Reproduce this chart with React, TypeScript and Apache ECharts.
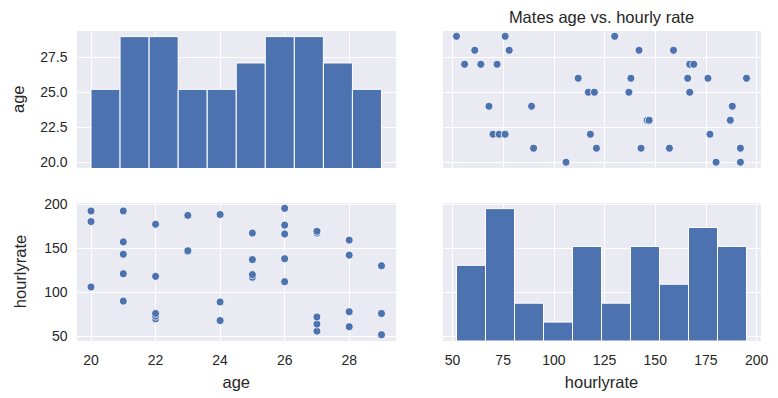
import React, { useEffect, useRef } from "react";
import * as echarts from "echarts";

// Paired observations (age, hourly rate)
const ageValues = [
  20, 20, 20, 21, 21, 21, 21, 21, 22, 22, 22, 22, 22, 23, 23, 23, 24, 24, 24, 25,
  25, 25, 25, 26, 26, 26, 26, 26, 27, 27, 27, 27, 27, 28, 28, 28, 28, 29, 29, 29,
];
const rateValues = [
  106, 180, 192, 90, 121, 143, 157, 192, 70, 73, 76, 118, 177, 146, 147, 187, 68, 89, 188, 117,
  120, 137, 167, 112, 138, 166, 176, 195, 56, 64, 72, 167, 169, 61, 78, 142, 159, 52, 76, 130,
];

// Histogram bins
const ageBinEdges = [20, 20.9, 21.8, 22.7, 23.6, 24.5, 25.4, 26.3, 27.2, 28.1, 29];
const ageBinCounts = [3, 5, 5, 3, 3, 4, 5, 5, 4, 3];
const rateBinEdges = [52, 66.3, 80.6, 94.9, 109.2, 123.5, 137.8, 152.1, 166.4, 180.7, 195];
const rateBinCounts = [4, 7, 2, 1, 5, 2, 5, 3, 6, 5];

const titleText = "Mates age vs. hourly rate";
const ageLabel = "age";
const rateLabel = "hourlyrate";

const AGE_MIN = 19.55;
const AGE_MAX = 29.45;
const RATE_MIN = 44.85;
const RATE_MAX = 202.15;

const BLUE = "#4C72B0";
const TEXT = "#262626";
const FONT = "Liberation Sans, Arial, sans-serif";

function isMultiple(v: number, step: number) {
  const r = v / step;
  return Math.abs(r - Math.round(r)) < 1e-6;
}

function makeAxis(opts: any) {
  const { gridIndex, min, max, step, showLabels, decimals, name, nameGap, margin } = opts;
  return {
    type: "value",
    gridIndex,
    min,
    max,
    minInterval: step,
    maxInterval: step,
    name: name || "",
    nameLocation: "middle",
    nameGap: nameGap || 30,
    nameTextStyle: { color: TEXT, fontSize: 16.5, fontFamily: FONT },
    axisLine: { show: false },
    axisTick: { show: false },
    splitLine: { show: true, lineStyle: { color: "#ffffff", width: 1 } },
    axisLabel: {
      show: !!showLabels,
      color: TEXT,
      fontSize: 14,
      fontFamily: FONT,
      margin: margin || 9,
      formatter: (v: number) => (isMultiple(v, step) ? v.toFixed(decimals || 0) : ""),
    },
  };
}

function histRender(params: any, api: any) {
  const p0 = api.coord([api.value(0), api.value(2)]);
  const p1 = api.coord([api.value(1), 0]);
  return {
    type: "rect",
    shape: { x: p0[0], y: p0[1], width: p1[0] - p0[0], height: p1[1] - p0[1] },
    style: { fill: BLUE, stroke: "#ffffff", lineWidth: 1 },
  };
}

export default function App() {
  const ref = useRef<HTMLDivElement>(null);

  useEffect(() => {
    if (!ref.current) return;
    const chart = echarts.init(ref.current, null, { renderer: "svg" });

    const ageHist = ageBinCounts.map((c, i) => [ageBinEdges[i], ageBinEdges[i + 1], c]);
    const rateHist = rateBinCounts.map((c, i) => [rateBinEdges[i], rateBinEdges[i + 1], c]);
    const rateVsAge = ageValues.map((a, i) => [rateValues[i], a]);
    const ageVsRate = ageValues.map((a, i) => [a, rateValues[i]]);

    const gridStyle = { show: true, backgroundColor: "#EAEAF2", borderWidth: 0 };
    const scatterStyle = { color: BLUE, borderColor: "#ffffff", borderWidth: 0.8, opacity: 1 };

    chart.setOption({
      animation: false,
      backgroundColor: "#ffffff",
      textStyle: { fontFamily: FONT },
      graphic: [
        {
          type: "text",
          x: 601.5,
          y: 17,
          style: {
            text: titleText,
            align: "center",
            verticalAlign: "middle",
            fill: TEXT,
            fontSize: 16.5,
            fontFamily: FONT,
          },
        },
      ],
      grid: [
        { ...gridStyle, left: 76.5, top: 30, width: 319.5, height: 138.5 },
        { ...gridStyle, left: 442, top: 30, width: 319, height: 138.5 },
        { ...gridStyle, left: 76.5, top: 202, width: 319.5, height: 139 },
        { ...gridStyle, left: 442, top: 202, width: 319, height: 139 },
      ],
      xAxis: [
        makeAxis({ gridIndex: 0, min: AGE_MIN, max: AGE_MAX, step: 2 }),
        makeAxis({ gridIndex: 1, min: RATE_MIN, max: RATE_MAX, step: 25 }),
        makeAxis({ gridIndex: 2, min: AGE_MIN, max: AGE_MAX, step: 2, showLabels: true, name: ageLabel, nameGap: 32, margin: 12 }),
        makeAxis({ gridIndex: 3, min: RATE_MIN, max: RATE_MAX, step: 25, showLabels: true, name: rateLabel, nameGap: 32, margin: 12 }),
      ],
      yAxis: [
        makeAxis({ gridIndex: 0, min: AGE_MIN, max: AGE_MAX, step: 2.5, showLabels: true, decimals: 1, name: ageLabel, nameGap: 50 }),
        { type: "value", gridIndex: 0, min: 0, max: 5.25, show: false, splitLine: { show: false } },
        makeAxis({ gridIndex: 1, min: AGE_MIN, max: AGE_MAX, step: 2.5 }),
        makeAxis({ gridIndex: 2, min: RATE_MIN, max: RATE_MAX, step: 50, showLabels: true, name: rateLabel, nameGap: 48 }),
        makeAxis({ gridIndex: 3, min: RATE_MIN, max: RATE_MAX, step: 50 }),
        { type: "value", gridIndex: 3, min: 0, max: 7.35, show: false, splitLine: { show: false } },
      ],
      series: [
        {
          type: "custom",
          xAxisIndex: 0,
          yAxisIndex: 1,
          data: ageHist,
          encode: { x: [0, 1], y: 2 },
          renderItem: histRender,
        },
        {
          type: "scatter",
          xAxisIndex: 1,
          yAxisIndex: 2,
          data: rateVsAge,
          symbolSize: 8,
          itemStyle: scatterStyle,
        },
        {
          type: "scatter",
          xAxisIndex: 2,
          yAxisIndex: 3,
          data: ageVsRate,
          symbolSize: 8,
          itemStyle: scatterStyle,
        },
        {
          type: "custom",
          xAxisIndex: 3,
          yAxisIndex: 5,
          data: rateHist,
          encode: { x: [0, 1], y: 2 },
          renderItem: histRender,
        },
      ],
    });

    return () => chart.dispose();
  }, []);

  return (
    <div
      ref={ref}
      style={{ position: "fixed", left: 0, top: 0, width: 778, height: 398 }}
    />
  );
}
